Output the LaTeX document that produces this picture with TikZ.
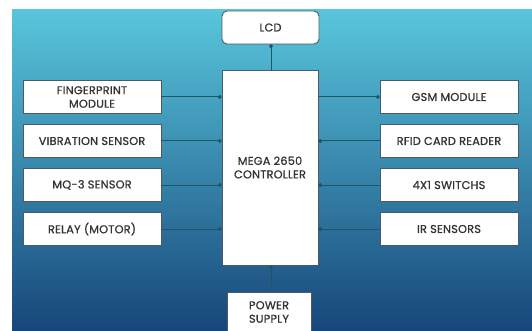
\documentclass[tikz,border=0pt]{standalone}
\usepackage{fontspec}
\setmainfont{Poppins}[FakeBold=1, LetterSpace=2]
\usetikzlibrary{arrows.meta}
\definecolor{lnc}{HTML}{1F5566}
\definecolor{txc}{HTML}{333333}
\definecolor{bdc}{HTML}{4A5A66}
\definecolor{bgtop}{HTML}{58C6DC}
\definecolor{bgmid}{HTML}{36A2C4}
\definecolor{bgbot}{HTML}{17467A}
\tikzset{
  blk/.style={draw=bdc, line width=0.9pt, fill=white, text=txc, align=center,
    font=\fontsize{11.3}{13.5}\selectfont, inner sep=1pt},
  side/.style={blk, minimum width=138pt, minimum height=33pt},
  conn/.style={draw=lnc, line width=1pt},
  dot/.style={-{Circle[length=3.6pt]}},
}
\begin{document}
\begin{tikzpicture}[x=1pt,y=-1pt]
\useasboundingbox (0,0) rectangle (532,331);
\fill[white] (0,0) rectangle (532,331);
\begin{scope}
\clip (0,0) rectangle (532,331);
\shade[top color=bgtop, middle color=bgmid, bottom color=bgbot] (12,10) rectangle (532,331);
% controller and top/bottom
\node[blk, minimum width=96pt, minimum height=195pt] (ctrl) at (270,167.5) {MEGA 2650\\CONTROLLER};
\node[blk, minimum width=97pt, minimum height=33pt, rounded corners=5pt] (lcd) at (270.5,27.5) {LCD};
\node[blk, minimum width=84pt, minimum height=40pt] (pwr) at (269,312) {POWER\\SUPPLY};
% left
\node[side] (fp) at (92,97) {FINGERPRINT\\MODULE};
\node[side] (vib) at (92,141) {VIBRATION SENSOR};
\node[side] (mq) at (92,185) {MQ-3 SENSOR};
\node[side] (rel) at (92,229) {RELAY (MOTOR)};
% right
\node[side] (gsm) at (449,97) {GSM MODULE};
\node[side] (rfid) at (449,141) {RFID CARD READER};
\node[side] (sw) at (449,185) {4X1 SWITCHS};
\node[side] (ir) at (449,229) {IR SENSORS};
% connectors
\foreach \n in {fp,vib,mq,rel}{
  \draw[conn, dot] (\n.east) -- (\n.east -| ctrl.west);
}
\draw[conn, dot] (gsm.west -| ctrl.east) -- (gsm.west);
\foreach \n in {rfid,sw,ir}{
  \draw[conn, dot] (\n.west) -- (\n.west -| ctrl.east);
}
\coordinate (lx) at (271,0);
\draw[conn, dot] (lx |- ctrl.north) -- (lx |- lcd.south);
\draw[conn, dot] (lx |- pwr.north) -- (lx |- ctrl.south);
\end{scope}
\end{tikzpicture}
\end{document}
